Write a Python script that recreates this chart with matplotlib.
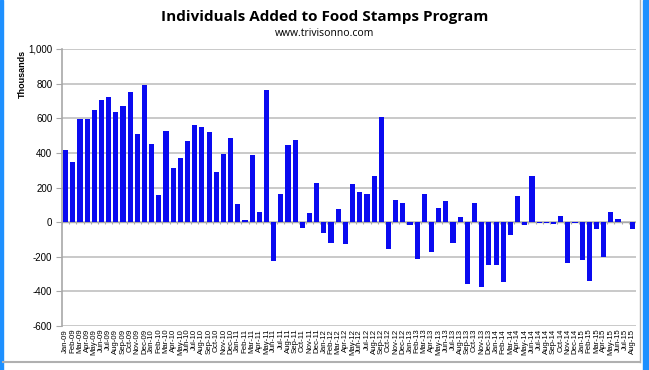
import numpy as np
import matplotlib
matplotlib.use("Agg")
import matplotlib.pyplot as plt
from matplotlib.patches import Rectangle

# monthly change in food stamp participants (thousands), Jan-09 .. Aug-15
months = ["Jan", "Feb", "Mar", "Apr", "May", "Jun",
          "Jul", "Aug", "Sep", "Oct", "Nov", "Dec"]
labels = [f"{m}-{y:02d}" for y in range(9, 16) for m in months][:80]

added = [
    415, 347, 594, 594, 646, 708, 720, 637, 673, 750, 507, 793,   # 2009
    451, 156, 528, 311, 369, 470, 559, 551, 521, 288, 395, 486,   # 2010
    104, 12, 386, 60, 762, -226, 160, 447, 473, -35, 50, 226,     # 2011
    -65, -123, 75, -129, 222, 174, 164, 266, 606, -156, 129, 110,  # 2012
    -17, -214, 164, -175, 83, 120, -120, 27, -360, 113, -376, -250,  # 2013
    -250, -346, -75, 151, -15, 268, -3, -5, -10, 37, -235, -5,   # 2014
    -220, -340, -38, -200, 58, 17, 3, -38,                       # 2015
]

fig = plt.figure(figsize=(6.49, 3.70), dpi=100)
ax = fig.add_axes([62 / 649, 1 - 326 / 370, 574 / 649, 277 / 370])

x = np.arange(len(added))
ax.bar(x, added, width=0.72, color="#0a0af0", zorder=3)

ax.set_xlim(-0.5, len(added) - 0.5)
ax.set_ylim(-600, 1000)
ax.set_yticks(range(-600, 1001, 200))
ax.set_yticklabels([f"{v:,}" for v in range(-600, 1001, 200)],
                   fontsize=7, family="Liberation Sans")
ax.yaxis.grid(True, color="#c0c0c0", linewidth=1.2, zorder=0)
ax.tick_params(axis="y", length=4, color="#a8a8a8", pad=3)

ax.set_xticks(x)
ax.set_xticklabels(labels, rotation=90, fontsize=5.6, family="Liberation Sans")
ax.tick_params(axis="x", length=0, pad=2)

# category axis drawn at zero with small ticks between bars
ax.axhline(0, color="#a8a8a8", linewidth=1, zorder=2)
ax.vlines(np.arange(len(added) + 1) - 0.5, -12, 0, color="#a8a8a8",
          linewidth=0.8, zorder=2)

for side in ["top", "right", "bottom"]:
    ax.spines[side].set_visible(False)
ax.spines["left"].set_color("#a8a8a8")
ax.spines["left"].set_linewidth(1.2)

fig.text(0.034, 0.80, "Thousands", rotation=90, fontsize=6.5,
         fontweight="bold", family="Liberation Sans", ha="center", va="center")

fig.text(0.5, 1 - 17 / 370, "Individuals Added to Food Stamps Program",
         fontsize=11, fontweight="bold", family="Open Sans",
         ha="center", va="center")
fig.text(0.5, 1 - 33 / 370, "www.trivisonno.com", fontsize=7.5,
         family="Open Sans", ha="center", va="center")

# window frame around the chart
fig.patches.append(Rectangle((0, 0), 3 / 649, 1, transform=fig.transFigure,
                             color="#1e90ff", zorder=0))
fig.patches.append(Rectangle((643 / 649, 0), 6 / 649, 1, transform=fig.transFigure,
                             color="#1e90ff", zorder=0))
fig.add_artist(plt.Line2D([3 / 649, 640 / 649], [1 - 362 / 370] * 2,
                          transform=fig.transFigure, color="#b0b0b0", linewidth=1.5))
fig.add_artist(plt.Line2D([640 / 649] * 2, [1 - 362 / 370, 1],
                          transform=fig.transFigure, color="#b0b0b0", linewidth=1))

fig.savefig("out.png", dpi=100)
